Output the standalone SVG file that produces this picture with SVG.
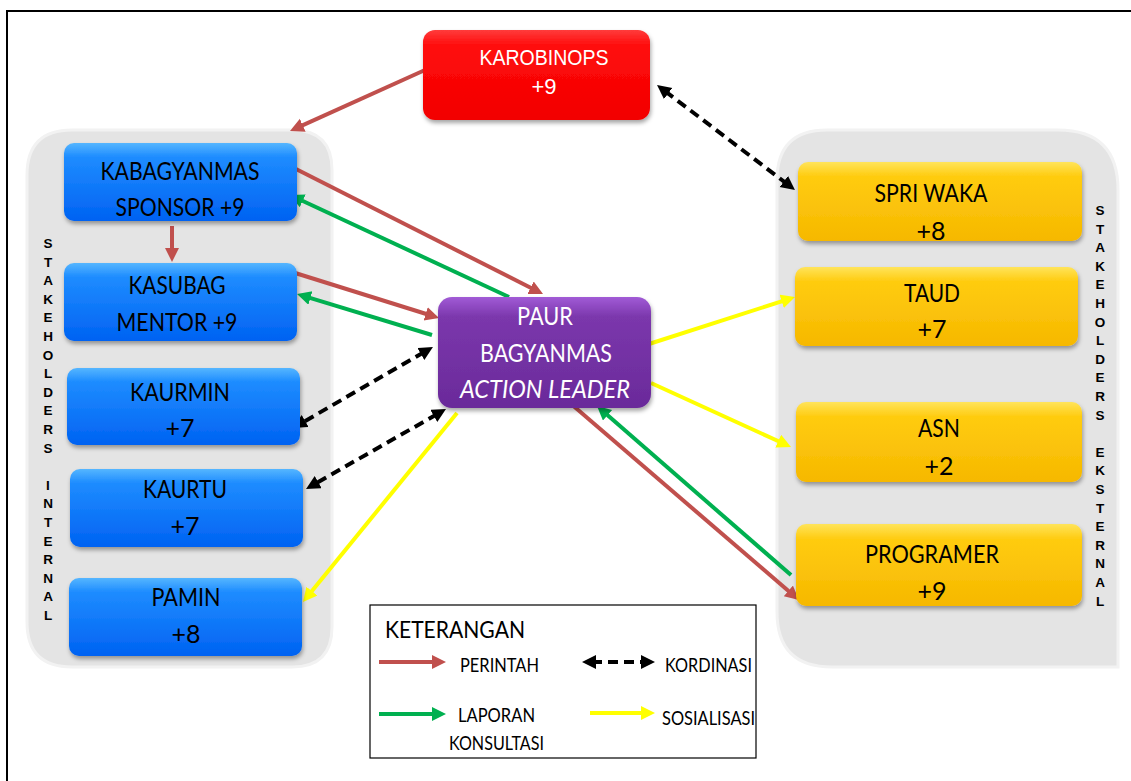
<svg xmlns="http://www.w3.org/2000/svg" width="1131" height="781" viewBox="0 0 1131 781">
<defs>
<style>
.t{font-family:Lato,"Liberation Sans",sans-serif;font-size:25px;fill:#000;text-anchor:middle}
.w{fill:#fff}
.v{font-family:"Liberation Sans",Arial,sans-serif;font-size:13.5px;font-weight:bold;fill:#000;text-anchor:middle}
.lg{font-family:Lato,"Liberation Sans",sans-serif;font-size:19px;fill:#000}
.r{stroke:#C0504D;stroke-width:4;fill:none}
.g{stroke:#00B050;stroke-width:4;fill:none}
.y{stroke:#FFFF00;stroke-width:4;fill:none}
.k{stroke:#000;stroke-width:4;fill:none;stroke-dasharray:10 6}
.cont{fill:#E4E4E4;stroke:#F2F2F2;stroke-width:3}
</style>
<linearGradient id="gb" x1="0" y1="0" x2="0" y2="1">
<stop offset="0" stop-color="#55B6FF"/><stop offset="0.18" stop-color="#1E8CFF"/><stop offset="1" stop-color="#0062F2"/>
</linearGradient>
<linearGradient id="gy" x1="0" y1="0" x2="0" y2="1">
<stop offset="0" stop-color="#FFE45A"/><stop offset="0.18" stop-color="#FFCC11"/><stop offset="1" stop-color="#F6B800"/>
</linearGradient>
<linearGradient id="gr" x1="0" y1="0" x2="0" y2="1">
<stop offset="0" stop-color="#FF3B3B"/><stop offset="0.18" stop-color="#FF0B0B"/><stop offset="1" stop-color="#F20000"/>
</linearGradient>
<linearGradient id="gp" x1="0" y1="0" x2="0" y2="1">
<stop offset="0" stop-color="#A15BD6"/><stop offset="0.18" stop-color="#7B37AC"/><stop offset="1" stop-color="#6A2A9A"/>
</linearGradient>
<filter id="sh" x="-10%" y="-10%" width="125%" height="135%">
<feDropShadow dx="1" dy="3" stdDeviation="2" flood-color="#000" flood-opacity="0.35"/>
</filter>
<marker id="mr" markerUnits="userSpaceOnUse" markerWidth="16" markerHeight="16" refX="4" refY="7" orient="auto"><path d="M0,0 L14,7 L0,14 z" fill="#C0504D"/></marker>
<marker id="mg" markerUnits="userSpaceOnUse" markerWidth="16" markerHeight="16" refX="4" refY="7" orient="auto"><path d="M0,0 L14,7 L0,14 z" fill="#00B050"/></marker>
<marker id="my" markerUnits="userSpaceOnUse" markerWidth="16" markerHeight="16" refX="4" refY="7" orient="auto"><path d="M0,0 L14,7 L0,14 z" fill="#FFFF00"/></marker>
<marker id="mk" markerUnits="userSpaceOnUse" markerWidth="16" markerHeight="16" refX="4" refY="7" orient="auto-start-reverse"><path d="M0,0 L14,7 L0,14 z" fill="#000"/></marker>
</defs>

<rect x="0" y="0" width="1131" height="781" fill="#fff"/>
<path d="M7,781 V11 H1131" fill="none" stroke="#000" stroke-width="2"/>

<g id="container-internal">
<path class="cont" d="M72,130 H292 Q332,130 332,170 V627 Q332,667 292,667 H72 Q27,667 27,622 V175 Q27,130 72,130 Z"/>
<text class="v" x="48"><tspan x="48" y="248">S</tspan><tspan x="48" y="266.6">T</tspan><tspan x="48" y="285.2">A</tspan><tspan x="48" y="303.8">K</tspan><tspan x="48" y="322.4">E</tspan><tspan x="48" y="341">H</tspan><tspan x="48" y="359.6">O</tspan><tspan x="48" y="378.2">L</tspan><tspan x="48" y="396.8">D</tspan><tspan x="48" y="415.4">E</tspan><tspan x="48" y="434">R</tspan><tspan x="48" y="452.6">S</tspan><tspan x="48" y="489.8">I</tspan><tspan x="48" y="508.4">N</tspan><tspan x="48" y="527">T</tspan><tspan x="48" y="545.6">E</tspan><tspan x="48" y="564.2">R</tspan><tspan x="48" y="582.8">N</tspan><tspan x="48" y="601.4">A</tspan><tspan x="48" y="620">L</tspan></text>
</g>

<g id="container-eksternal">
<path class="cont" d="M827,130 H1058 Q1118,130 1118,190 V667 H832 Q777,667 777,612 V180 Q777,130 827,130 Z"/>
<text class="v"><tspan x="1100" y="215">S</tspan><tspan x="1100" y="233.6">T</tspan><tspan x="1100" y="252.2">A</tspan><tspan x="1100" y="270.8">K</tspan><tspan x="1100" y="289.4">E</tspan><tspan x="1100" y="308">H</tspan><tspan x="1100" y="326.6">O</tspan><tspan x="1100" y="345.2">L</tspan><tspan x="1100" y="363.8">D</tspan><tspan x="1100" y="382.4">E</tspan><tspan x="1100" y="401">R</tspan><tspan x="1100" y="419.6">S</tspan><tspan x="1100" y="456.8">E</tspan><tspan x="1100" y="475.4">K</tspan><tspan x="1100" y="494">S</tspan><tspan x="1100" y="512.6">T</tspan><tspan x="1100" y="531.2">E</tspan><tspan x="1100" y="549.8">R</tspan><tspan x="1100" y="568.4">N</tspan><tspan x="1100" y="587">A</tspan><tspan x="1100" y="605.6">L</tspan></text>
</g>

<g id="connectors">
<line class="r" x1="425" y1="70" x2="299.1" y2="126.9" marker-end="url(#mr)"/>
<line class="r" x1="292" y1="167" x2="534.1" y2="289.5" marker-end="url(#mr)"/>
<line class="g" x1="509" y1="297" x2="299.1" y2="199.2" marker-end="url(#mg)"/>
<line class="r" x1="172" y1="226" x2="172" y2="252" marker-end="url(#mr)"/>
<line class="r" x1="292" y1="272" x2="429.5" y2="315" marker-end="url(#mr)"/>
<line class="g" x1="432" y1="335" x2="306.6" y2="296.9" marker-end="url(#mg)"/>
<line class="k" x1="424.3" y1="352" x2="301.7" y2="423" marker-start="url(#mk)" marker-end="url(#mk)"/>
<line class="k" x1="437.3" y1="414" x2="314.7" y2="484" marker-start="url(#mk)" marker-end="url(#mk)"/>
<line class="y" x1="457" y1="413" x2="309.3" y2="594.2" marker-end="url(#my)"/>
<line class="y" x1="649" y1="344" x2="785.5" y2="300.1" marker-end="url(#my)"/>
<line class="y" x1="651" y1="383" x2="781.9" y2="442.8" marker-end="url(#my)"/>
<line class="r" x1="570" y1="403" x2="791.4" y2="593.5" marker-end="url(#mr)"/>
<line class="g" x1="791" y1="575" x2="604.5" y2="412.6" marker-end="url(#mg)"/>
<line class="k" x1="665" y1="91.1" x2="787" y2="183.9" marker-start="url(#mk)" marker-end="url(#mk)"/>
</g>

<g id="karobinops">
<rect x="423" y="30" width="227" height="90" rx="12" fill="url(#gr)" filter="url(#sh)"/>
<text class="t w" x="544" y="65" style="font-family:'Liberation Sans',Arial,sans-serif;font-size:22px" textLength="129" lengthAdjust="spacingAndGlyphs">KAROBINOPS</text>
<text class="t w" x="544" y="94" style="font-family:'Liberation Sans',Arial,sans-serif;font-size:22px">+9</text>
</g>

<g id="kabagyanmas">
<rect x="64" y="143" width="233" height="78" rx="10" fill="url(#gb)" filter="url(#sh)"/>
<text class="t" x="180" y="180" textLength="159" lengthAdjust="spacingAndGlyphs">KABAGYANMAS</text>
<text class="t" x="180" y="216" textLength="129" lengthAdjust="spacingAndGlyphs">SPONSOR +9</text>
</g>

<g id="kasubag">
<rect x="64" y="263" width="233" height="78" rx="10" fill="url(#gb)" filter="url(#sh)"/>
<text class="t" x="177" y="294" textLength="97" lengthAdjust="spacingAndGlyphs">KASUBAG</text>
<text class="t" x="177" y="331" textLength="121" lengthAdjust="spacingAndGlyphs">MENTOR +9</text>
</g>

<g id="kaurmin">
<rect x="67" y="368" width="233" height="77" rx="10" fill="url(#gb)" filter="url(#sh)"/>
<text class="t" x="180" y="401" textLength="100" lengthAdjust="spacingAndGlyphs">KAURMIN</text>
<text class="t" x="180" y="437">+7</text>
</g>

<g id="kaurtu">
<rect x="70" y="469" width="233" height="78" rx="10" fill="url(#gb)" filter="url(#sh)"/>
<text class="t" x="185" y="498" textLength="84" lengthAdjust="spacingAndGlyphs">KAURTU</text>
<text class="t" x="185" y="535">+7</text>
</g>

<g id="pamin">
<rect x="69" y="578" width="233" height="78" rx="10" fill="url(#gb)" filter="url(#sh)"/>
<text class="t" x="186" y="606" textLength="69" lengthAdjust="spacingAndGlyphs">PAMIN</text>
<text class="t" x="186" y="643">+8</text>
</g>

<g id="paur">
<rect x="438" y="297" width="213" height="111" rx="14" fill="url(#gp)" filter="url(#sh)"/>
<text class="t w" x="545" y="325" textLength="56" lengthAdjust="spacingAndGlyphs">PAUR</text>
<text class="t w" x="546" y="362" textLength="132" lengthAdjust="spacingAndGlyphs">BAGYANMAS</text>
<text class="t w" x="545" y="398" font-style="italic" textLength="170" lengthAdjust="spacingAndGlyphs">ACTION LEADER</text>
</g>

<g id="spri-waka">
<rect x="798" y="162" width="284" height="79" rx="10" fill="url(#gy)" filter="url(#sh)"/>
<text class="t" x="931" y="202" textLength="113" lengthAdjust="spacingAndGlyphs">SPRI WAKA</text>
<text class="t" x="931" y="240">+8</text>
</g>

<g id="taud">
<rect x="795" y="267" width="283" height="79" rx="10" fill="url(#gy)" filter="url(#sh)"/>
<text class="t" x="932" y="302" textLength="56" lengthAdjust="spacingAndGlyphs">TAUD</text>
<text class="t" x="932" y="338">+7</text>
</g>

<g id="asn">
<rect x="796" y="402" width="286" height="80" rx="10" fill="url(#gy)" filter="url(#sh)"/>
<text class="t" x="939" y="437" textLength="42" lengthAdjust="spacingAndGlyphs">ASN</text>
<text class="t" x="939" y="475">+2</text>
</g>

<g id="programer">
<rect x="796" y="524" width="286" height="82" rx="10" fill="url(#gy)" filter="url(#sh)"/>
<text class="t" x="932" y="563" textLength="134" lengthAdjust="spacingAndGlyphs">PROGRAMER</text>
<text class="t" x="932" y="600">+9</text>
</g>

<g id="legend">
<rect x="370" y="605" width="386" height="153" fill="#fff" stroke="#000" stroke-width="1.2"/>
<text class="lg" x="385" y="638" style="font-size:23px" textLength="140" lengthAdjust="spacingAndGlyphs">KETERANGAN</text>
<line class="r" x1="379" y1="662" x2="436" y2="662" stroke-width="5" marker-end="url(#mr)"/>
<text class="lg" x="460" y="672" textLength="79" lengthAdjust="spacingAndGlyphs">PERINTAH</text>
<line class="k" x1="592" y1="662" x2="645" y2="662" stroke-dasharray="9 5" marker-start="url(#mk)" marker-end="url(#mk)"/>
<text class="lg" x="665" y="672" textLength="87" lengthAdjust="spacingAndGlyphs">KORDINASI</text>
<line class="g" x1="379" y1="714" x2="436" y2="714" stroke-width="5" marker-end="url(#mg)"/>
<text class="lg" x="458" y="722" textLength="77" lengthAdjust="spacingAndGlyphs">LAPORAN</text>
<text class="lg" x="449" y="750" textLength="95" lengthAdjust="spacingAndGlyphs">KONSULTASI</text>
<line class="y" x1="590" y1="713" x2="645" y2="713" stroke-width="5" marker-end="url(#my)"/>
<text class="lg" x="662" y="725" textLength="93" lengthAdjust="spacingAndGlyphs">SOSIALISASI</text>
</g>
</svg>
